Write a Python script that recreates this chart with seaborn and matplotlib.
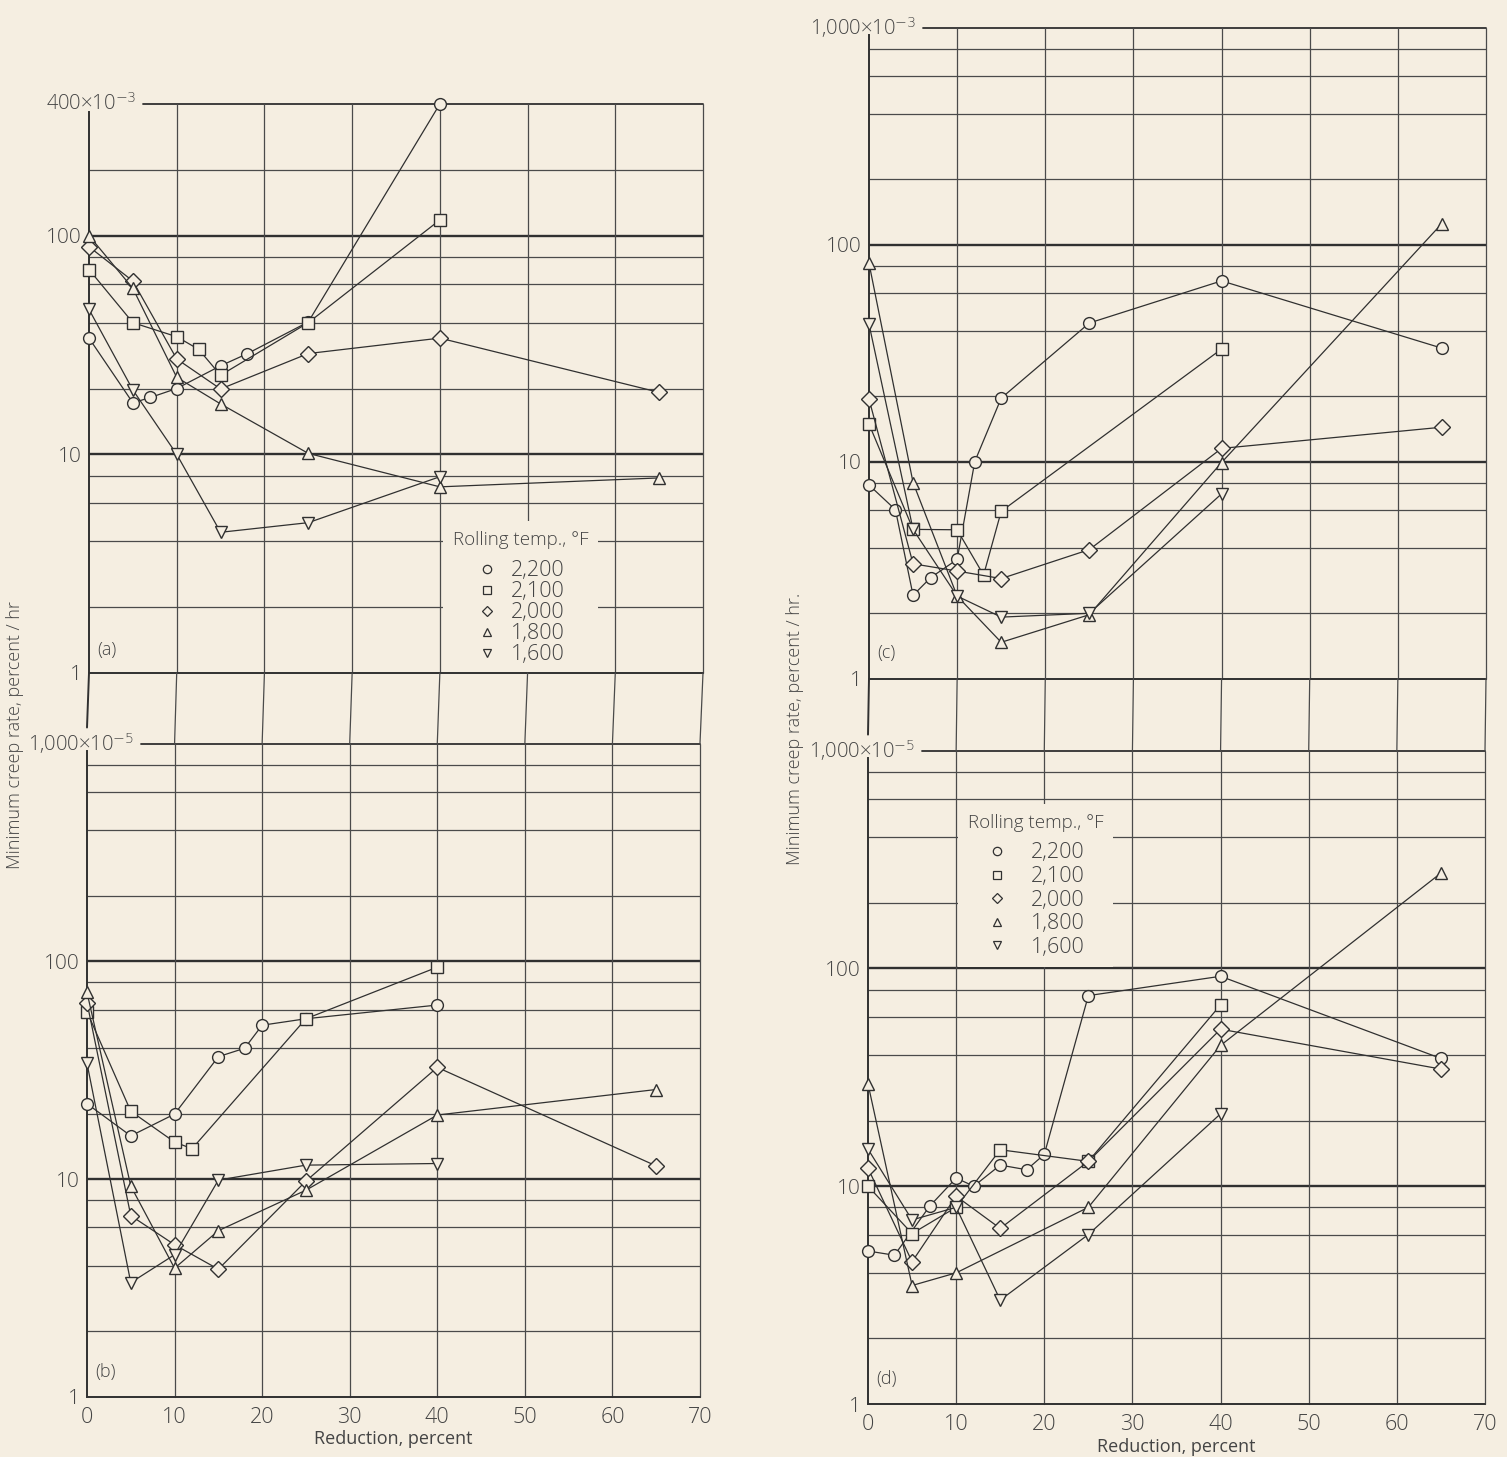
import matplotlib
matplotlib.use("Agg")
import numpy as np
import pandas as pd
import matplotlib.pyplot as plt
import seaborn as sns
from matplotlib.lines import Line2D

# Colours
paper = "#f5eee1"
ink = "#303030"
text_c = "#444444"
grid_c = "#4a4a4a"

# Series labels and markers
temps = ["2,200", "2,100", "2,000", "1,800", "1,600"]
marker_map = {"2,200": "o", "2,100": "s", "2,000": "D", "1,800": "^", "1,600": "v"}

# Panel (a), x10^-3 percent/hr
a_2200_x = [0, 5, 7, 10, 15, 18, 25, 40]
a_2200_y = [34, 17.2, 18.2, 20, 25.4, 28.8, 40.3, 400]
a_2100_x = [0, 5, 10, 12.5, 15, 25, 40]
a_2100_y = [70, 40, 34.5, 30.2, 23, 40, 118]
a_2000_x = [0, 5, 10, 15, 25, 40, 65]
a_2000_y = [89, 62, 27.3, 19.9, 28.9, 34, 19.2]
a_1800_x = [0, 5, 10, 15, 25, 40, 65]
a_1800_y = [100, 57.4, 22.5, 17, 10.1, 7.1, 7.8]
a_1600_x = [0, 5, 10, 15, 25, 40]
a_1600_y = [46, 19.7, 10, 4.4, 4.87, 7.9]

# Panel (b), x10^-5 percent/hr
b_2200_x = [0, 5, 10, 15, 18, 20, 25, 40]
b_2200_y = [22.2, 15.8, 19.9, 36.5, 39.9, 50.9, 54.5, 63]
b_2100_x = [0, 5, 10, 12, 25, 40]
b_2100_y = [58.7, 20.5, 14.8, 13.8, 54.5, 94]
b_2000_x = [0, 5, 10, 15, 25, 40, 65]
b_2000_y = [64.7, 6.8, 5.0, 3.86, 9.8, 32.6, 11.5]
b_1800_x = [0, 5, 10, 15, 25, 40, 65]
b_1800_y = [72, 9.3, 3.9, 5.8, 8.9, 19.7, 25.8]
b_1600_x = [0, 5, 10, 15, 25, 40]
b_1600_y = [34, 3.35, 4.5, 9.9, 11.6, 11.8]

# Panel (c), x10^-3 percent/hr
c_2200_x = [0, 3, 5, 7, 10, 12, 15, 25, 40, 65]
c_2200_y = [7.8, 6.0, 2.42, 2.92, 3.54, 10, 19.6, 43.5, 68, 33.3]
c_2100_x = [0, 5, 10, 13, 15, 40]
c_2100_y = [14.9, 4.87, 4.85, 3.0, 5.9, 33]
c_2000_x = [0, 5, 10, 15, 25, 40, 65]
c_2000_y = [19.4, 3.38, 3.13, 2.89, 3.93, 11.5, 14.4]
c_1800_x = [0, 5, 10, 15, 25, 40, 65]
c_1800_y = [82, 8.0, 2.4, 1.47, 1.97, 9.9, 125]
c_1600_x = [0, 5, 10, 15, 25, 40]
c_1600_y = [43, 4.87, 2.4, 1.92, 2.0, 7.1]

# Panel (d), x10^-5 percent/hr
d_2200_x = [0, 3, 7, 10, 12, 15, 18, 20, 25, 40, 65]
d_2200_y = [5.04, 4.82, 8.1, 10.9, 10, 12.5, 11.9, 14, 75, 92, 38.6]
d_2100_x = [0, 5, 10, 15, 25, 40]
d_2100_y = [10, 6.06, 8.0, 14.7, 13, 68]
d_2000_x = [0, 5, 10, 15, 25, 40, 65]
d_2000_y = [12.1, 4.5, 9.0, 6.4, 13, 52.6, 34.5]
d_1800_x = [0, 5, 10, 25, 40, 65]
d_1800_y = [29.5, 3.5, 4.0, 8.0, 44.3, 274]
d_1600_x = [0, 5, 10, 15, 25, 40]
d_1600_y = [14.8, 7.0, 8.0, 3.0, 6.0, 21.5]


def build(xs_list, ys_list):
    rows = []
    for temp, xs, ys in zip(temps, xs_list, ys_list):
        for x, y in zip(xs, ys):
            rows.append((temp, x, y))
    return pd.DataFrame(rows, columns=["temp", "reduction", "rate"])


df_a = build([a_2200_x, a_2100_x, a_2000_x, a_1800_x, a_1600_x],
             [a_2200_y, a_2100_y, a_2000_y, a_1800_y, a_1600_y])
df_b = build([b_2200_x, b_2100_x, b_2000_x, b_1800_x, b_1600_x],
             [b_2200_y, b_2100_y, b_2000_y, b_1800_y, b_1600_y])
df_c = build([c_2200_x, c_2100_x, c_2000_x, c_1800_x, c_1600_x],
             [c_2200_y, c_2100_y, c_2000_y, c_1800_y, c_1600_y])
df_d = build([d_2200_x, d_2100_x, d_2000_x, d_1800_x, d_1600_x],
             [d_2200_y, d_2100_y, d_2000_y, d_1800_y, d_1600_y])

sns.set_theme(style="white")
plt.rcParams["font.family"] = ["Open Sans", "DejaVu Sans"]
plt.rcParams["font.weight"] = "light"
plt.rcParams["text.color"] = text_c

W, H = 1507, 1457
fig = plt.figure(figsize=(W / 100, H / 100), dpi=100, facecolor=paper)

# pixel layout: left, top, right, bottom
layout = {
    "a": (89, 104, 703, 673),
    "b": (87, 743.5, 700, 1397),
    "c": (869, 27.5, 1486, 678.6),
    "d": (868, 750.6, 1485, 1404),
}
specs = {
    "a": dict(df=df_a, ymax=400, top="400×10$^{-3}$", letter="(a)", xlab=False),
    "b": dict(df=df_b, ymax=1000, top="1,000×10$^{-5}$", letter="(b)", xlab=True),
    "c": dict(df=df_c, ymax=1000, top="1,000×10$^{-3}$", letter="(c)", xlab=False),
    "d": dict(df=df_d, ymax=1000, top="1,000×10$^{-5}$", letter="(d)", xlab=True),
}

axes = {}
for key, (l, t, r, b) in layout.items():
    ax = fig.add_axes([l / W, 1 - b / H, (r - l) / W, (b - t) / H])
    axes[key] = ax
    sp = specs[key]
    ymax = sp["ymax"]
    wpx = r - l
    ax.set_facecolor(paper)
    ax.set_yscale("log")

    # graph-paper grid
    for v in [2, 4, 6, 8, 20, 40, 60, 80, 200, 400, 600, 800]:
        if v < ymax:
            ax.axhline(v, color=grid_c, lw=0.9, zorder=1)
    for v in [10, 100]:
        ax.axhline(v, color=ink, lw=1.7, zorder=1)
    ax.axhline(1, color=ink, lw=1.4, zorder=6, clip_on=False)
    ax.axhline(ymax, xmin=54 / wpx, xmax=1, color=ink, lw=1.3, zorder=1, clip_on=False)
    for v in range(10, 71, 10):
        ax.axvline(v, color=grid_c, lw=0.9, zorder=1, clip_on=False)

    sns.lineplot(data=sp["df"], x="reduction", y="rate", style="temp",
                 style_order=temps, markers=marker_map, dashes=False,
                 estimator=None, sort=False, legend=False, ax=ax,
                 color=ink, linewidth=0.9, markersize=8.5,
                 markerfacecolor=paper, markeredgecolor=ink,
                 markeredgewidth=1.0, zorder=3, clip_on=False)

    ax.set_xlim(0, 70)
    ax.set_ylim(1, ymax)
    for s in ["top", "right", "bottom"]:
        ax.spines[s].set_visible(False)
    ax.spines["left"].set_color(ink)
    ax.spines["left"].set_linewidth(1.4)
    ax.spines["left"].set_bounds(1, ymax * 0.92)

    ax.set_yticks([1, 10, 100], ["1", "10", "100"])
    ax.set_yticks([], minor=True)
    ax.tick_params(axis="y", length=0, pad=5, labelsize=15, labelcolor=text_c)
    ax.set_xticks(range(0, 71, 10))
    ax.set_xticks([], minor=True)
    if sp["xlab"]:
        ax.set_xticklabels([str(v) for v in range(0, 71, 10)])
        ax.tick_params(axis="x", length=0, pad=7, labelsize=15.5, labelcolor=text_c)
        ax.set_xlabel("Reduction, percent", fontsize=13, color=text_c, labelpad=2)
    else:
        ax.tick_params(axis="x", length=0, labelbottom=False)
        ax.set_xlabel("")
    ax.set_ylabel("")

    ax.text(47 / wpx, ymax, sp["top"], transform=ax.get_yaxis_transform(),
            ha="right", va="center", fontsize=14.5, color=text_c)
    ax.text(0.013, 0.025, sp["letter"], transform=ax.transAxes,
            ha="left", va="bottom", fontsize=13, color=text_c)

# legends
handles = [Line2D([0], [0], marker=marker_map[t], ls="none", mfc=paper, mec=ink,
                  mew=0.9, ms=6 if marker_map[t] != "D" else 5.5) for t in temps]


def px_to_axes(key, px, py):
    l, t, r, b = layout[key]
    return (px - l) / (r - l), (b - py) / (b - t)


def add_legend(ax, anchor, spacing, textpad, title_gap):
    leg = ax.legend(handles, temps, title="Rolling temp., °F\n",
                    loc="upper left", bbox_to_anchor=anchor,
                    frameon=True, facecolor=paper, edgecolor="none", framealpha=1,
                    fancybox=False, fontsize=15.5, title_fontsize=13.5,
                    handlelength=1.0, handletextpad=textpad, labelspacing=spacing,
                    borderpad=0.45, borderaxespad=0)
    leg.set_zorder(5)
    leg.get_title().set_linespacing(title_gap)
    leg.get_title().set_color(text_c)
    for txt in leg.get_texts():
        txt.set_color(text_c)
    return leg


add_legend(axes["a"], px_to_axes("a", 443, 521), 0.0, 0.6, 0.55)
add_legend(axes["d"], px_to_axes("d", 958, 804), 0.12, 1.1, 0.3)

# vertical rulings continue through the gap between stacked panels
inv = fig.transFigure.inverted()
for upper, lower in [("a", "b"), ("c", "d")]:
    au, al = axes[upper], axes[lower]
    for v in range(0, 71, 10):
        p0 = au.transData.transform((v, 1))
        p1 = al.transData.transform((v, specs[lower]["ymax"]))
        if v == 0:
            p1 = (p1[0], p1[1] + 16)
        q0, q1 = inv.transform(p0), inv.transform(p1)
        fig.add_artist(Line2D([q0[0], q1[0]], [q0[1], q1[1]], transform=fig.transFigure,
                              color=ink if v == 0 else grid_c,
                              lw=1.4 if v == 0 else 0.9))

fig.text(15 / W, 1 - 735 / H, "Minimum creep rate, percent / hr", rotation=90,
         ha="center", va="center", fontsize=13, color=text_c)
fig.text(795 / W, 1 - 729 / H, "Minimum creep rate, percent / hr.", rotation=90,
         ha="center", va="center", fontsize=13, color=text_c)

fig.savefig("out.png", dpi=100, facecolor=paper)
